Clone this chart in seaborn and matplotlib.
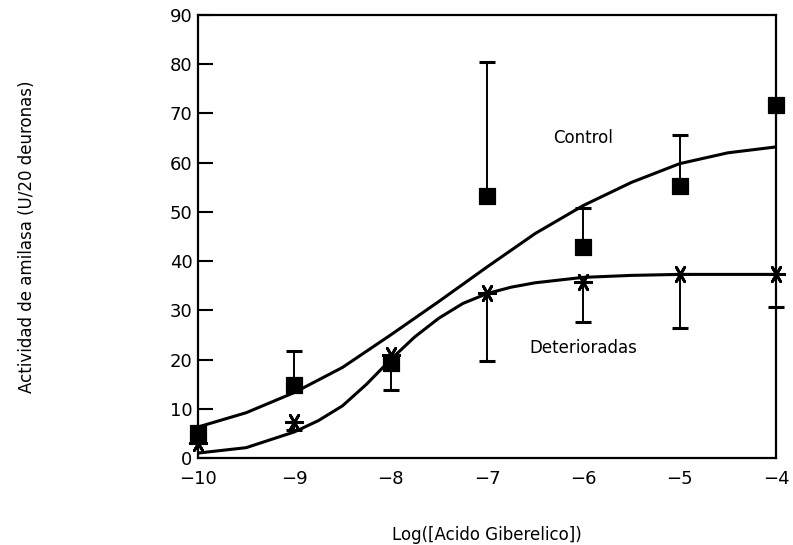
import matplotlib
matplotlib.use("Agg")
import matplotlib.pyplot as plt
import seaborn as sns
import pandas as pd
import numpy as np

# --- data ---
log_ga = [-10, -9, -8, -7, -6, -5, -4]
control_mean = [5.1, 14.8, 19.3, 53.3, 42.9, 55.3, 71.7]
control_err_up = [0.0, 6.9, 0.0, 27.2, 7.9, 10.4, 0.0]
deter_mean = [3.0, 7.3, 21.0, 33.5, 35.8, 37.4, 37.4]
deter_err_down = [0.0, 1.6, 7.2, 13.7, 8.2, 11.0, 6.7]

control_curve_x = [-10, -9.5, -9, -8.5, -8, -7.5, -7, -6.5, -6, -5.5, -5, -4.5, -4]
control_curve = [6.3, 9.2, 13.3, 18.4, 25.0, 31.8, 38.8, 45.6, 51.3, 56.0, 59.8, 62.0, 63.2]
deter_curve_x = [-10, -9.5, -9, -8.75, -8.5, -8.25, -8, -7.75, -7.5, -7.25, -7,
                 -6.75, -6.5, -6, -5.5, -5, -4.5, -4]
deter_curve = [1.0, 2.1, 5.3, 7.6, 10.6, 15.0, 20.0, 24.6, 28.4, 31.4, 33.4,
               34.7, 35.6, 36.7, 37.1, 37.3, 37.3, 37.3]

labels = ["Control", "Deterioradas"]
label_x = [-6.0, -6.0]
label_y = [65.0, 22.4]

x_ticks = [-10, -9, -8, -7, -6, -5, -4]
y_ticks = [0, 10, 20, 30, 40, 50, 60, 70, 80, 90]
x_label = "Log([Acido Giberelico])"
y_label = "Actividad de amilasa (U/20 deuronas)"

sns.set_theme(style="white")
plt.rcParams['font.family'] = ['DejaVu Sans']

fig = plt.figure(figsize=(7.93, 5.45), dpi=100)
ax = fig.add_axes([198/793, 87/545, 578/793, 443/545])

curves = pd.DataFrame({
    "x": control_curve_x + deter_curve_x,
    "y": control_curve + deter_curve,
    "serie": ["Control"] * len(control_curve_x) + ["Deterioradas"] * len(deter_curve_x),
})
sns.lineplot(data=curves, x="x", y="y", units="serie", estimator=None,
             color="black", lw=2.2, ax=ax, legend=False)

# error bars (control: upward, deterioradas: downward)
ax.errorbar(log_ga, control_mean,
            yerr=[np.zeros(len(log_ga)), control_err_up],
            fmt="none", ecolor="black", elinewidth=1.4, capsize=5.5, capthick=2.2,
            clip_on=False)
ax.errorbar(log_ga, deter_mean,
            yerr=[deter_err_down, np.zeros(len(log_ga))],
            fmt="none", ecolor="black", elinewidth=1.4, capsize=5.5, capthick=2.2,
            clip_on=False)

pts = pd.DataFrame({"x": log_ga, "c": control_mean, "d": deter_mean})
sns.scatterplot(data=pts, x="x", y="c", marker="s", s=120, color="black",
                edgecolor="black", ax=ax, clip_on=False, zorder=5)
sns.scatterplot(data=pts, x="x", y="d", marker=(6, 2, 30), s=140, color="black",
                linewidth=2, ax=ax, clip_on=False, zorder=5)

for t, tx, ty in zip(labels, label_x, label_y):
    ax.text(tx, ty, t, ha="center", va="center", fontsize=12, color="black")

ax.set_xlim(-10, -4)
ax.set_ylim(0, 90)
ax.set_xticks(x_ticks)
ax.set_xticklabels([str(v).replace("-", "\u2212") for v in x_ticks])
ax.set_yticks(y_ticks)
ax.tick_params(axis="y", direction="in", length=11, width=1.5, labelsize=13,
               pad=4, left=True, colors="black")
ax.tick_params(axis="x", length=0, labelsize=13, pad=9, colors="black")
ax.set_xlabel(x_label, fontsize=12, color="black", va="center")
ax.set_ylabel(y_label, fontsize=12, color="black", va="center")
ax.xaxis.set_label_coords(0.5, (458 - 535) / 443)
ax.yaxis.set_label_coords((27 - 198) / 578, 0.5)
for s in ax.spines.values():
    s.set_color("black")
    s.set_linewidth(1.6)
ax.grid(False)

fig.savefig("out.png", dpi=100, facecolor="white")
